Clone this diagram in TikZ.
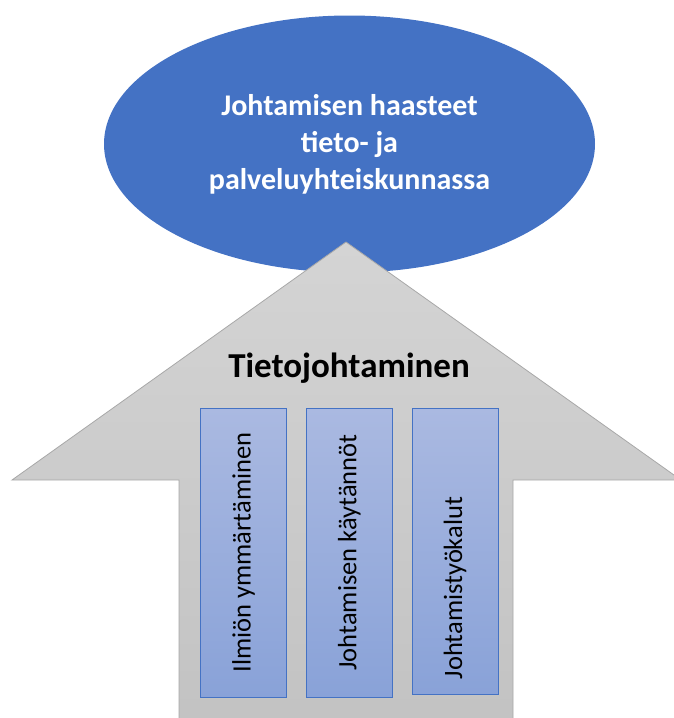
\documentclass[tikz,border=0pt]{standalone}
\usepackage{fontspec}
\setmainfont{Carlito}
\usetikzlibrary{shapes.geometric,positioning}
\definecolor{tjBlue}    {HTML}{4472C4}
\definecolor{tjGreyTop} {HTML}{D4D4D4}
\definecolor{tjGreyBot} {HTML}{C2C2C2}
\definecolor{tjGreyLine}{HTML}{A8A8A8}
\definecolor{tjBoxTop}  {HTML}{AAB9E1}
\definecolor{tjBoxBot}  {HTML}{89A2D8}

\begin{document}
\begin{tikzpicture}[x=1pt,y=-1pt,
    pillar/.style={draw=tjBlue,line width=0.8pt,top color=tjBoxTop,bottom color=tjBoxBot,
      minimum width=86pt,minimum height=289pt,inner sep=0},
    pillartext/.style={rotate=90,inner sep=0,font=\fontsize{26.5}{30}\selectfont}]
    \useasboundingbox (0,0) rectangle (674,718);
    \clip (0,0) rectangle (674,718);
    \node[ellipse,fill=tjBlue,minimum width=491pt,minimum height=257pt,inner sep=0] (goal) at (349.5,144) {};
    \node[align=center,text=white,font=\fontsize{30}{37}\selectfont\bfseries] (goaltext) at (goal.center)
      {Johtamisen haasteet\\tieto- ja\\palveluyhteiskunnassa};
    % the big arrow
    \path[draw=tjGreyLine,line width=0.8pt,top color=tjGreyTop,bottom color=tjGreyBot]
      (346,242) -- (681,480) -- (513,480) -- (513,740) -- (179,740) -- (179,480) -- (12,480) -- cycle;
    \node[font=\fontsize{35}{40}\selectfont\bfseries] (tj) at (349,368) {Tietojohtaminen};
    \node[pillar] (p1) at (243.5,552.5) {};
    \node[pillar,right=19pt of p1] (p2) {};
    \node[pillar,minimum height=286pt,right=19pt of p2.north east,anchor=north west] (p3) {};
    \node[pillartext] (t1) at (p1.center) {Ilmiön ymmärtäminen};
    \node[pillartext] (t2) at (p2.center) {Johtamisen käytännöt};
    \node[pillartext,xshift=-37pt] (t3) at (p3.center) {Johtamistyökalut};
  \end{tikzpicture}
\end{document}
